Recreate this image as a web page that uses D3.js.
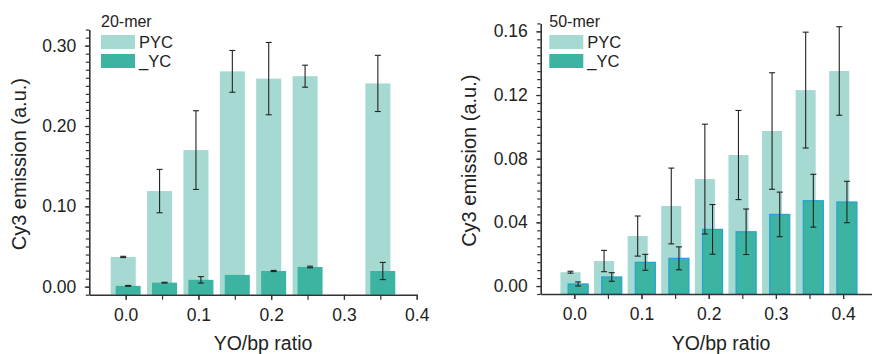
<!DOCTYPE html>
<html>
<head>
<meta charset="utf-8">
<script src="https://cdn.jsdelivr.net/npm/d3@7"></script>
<style>
  html, body { margin: 0; padding: 0; background: #fff; }
  svg { display: block; font-family: "Liberation Sans", Arial, Helvetica, sans-serif; }
</style>
</head>
<body>
<svg id="chart" width="872" height="354"></svg>
<script>
// 20-mer panel
const ratios20 = [0.0, 0.05, 0.1, 0.15, 0.2, 0.25, 0.35];
const pyc20    = [0.037, 0.119, 0.170, 0.268, 0.259, 0.262, 0.253];
const pyc20Err = [0.0008, 0.027, 0.049, 0.026, 0.045, 0.0137, 0.035];
const yc20     = [0.001, 0.005, 0.0085, 0.0146, 0.0195, 0.0245, 0.0195];
const yc20Err  = [0.0005, 0.0005, 0.004, 0, 0.0007, 0.001, 0.0107];

// 50-mer panel
const ratios50 = [0.0, 0.05, 0.1, 0.15, 0.2, 0.25, 0.3, 0.35, 0.4];
const pyc50    = [0.0087, 0.0157, 0.0314, 0.0503, 0.0672, 0.0823, 0.0974, 0.1231, 0.1351];
const pyc50Err = [0.0006, 0.0067, 0.0126, 0.0238, 0.0345, 0.028, 0.0366, 0.0364, 0.0278];
const yc50     = [0.0013, 0.0057, 0.0149, 0.0174, 0.0356, 0.0341, 0.045, 0.0536, 0.0528];
const yc50Err  = [0.0013, 0.0027, 0.005, 0.0072, 0.0156, 0.0143, 0.014, 0.0166, 0.013];

// Axis ticks
const xTicks = [0.0, 0.1, 0.2, 0.3, 0.4];
const yTicks20 = [0.0, 0.1, 0.2, 0.3];
const yTicks50 = [0.0, 0.04, 0.08, 0.12, 0.16];

const seriesNames = ["PYC", "_YC"];
const colorPYC = "#a5d9d2";
const colorYC = "#3db3a1";
const outlineYC = "#22a4d4";
const inkColor = "#222";

const svg = d3.select("#chart");

function drawPanel(cfg) {
  const g = svg.append("g");
  const x = d3.scaleLinear().domain(cfg.xDomain).range(cfg.xRange);
  const y = d3.scaleLinear().domain(cfg.yDomain).range(cfg.yRange);
  const base = y(cfg.yDomain[0]);
  const pxPerUnit = (cfg.xRange[1] - cfg.xRange[0]) / (cfg.xDomain[1] - cfg.xDomain[0]);
  const bw = cfg.barWidth * pxPerUnit;

  const rows = cfg.ratios.map((r, i) => ({
    r, pyc: cfg.pyc[i], pycErr: cfg.pycErr[i], yc: cfg.yc[i], ycErr: cfg.ycErr[i]
  }));

  // PYC bars (behind)
  g.selectAll("rect.pyc").data(rows).join("rect")
    .attr("class", "pyc")
    .attr("x", d => x(d.r - cfg.offset) - bw / 2)
    .attr("width", bw)
    .attr("y", d => y(d.pyc))
    .attr("height", d => base - y(d.pyc))
    .attr("fill", colorPYC);

  // _YC bars (front)
  g.selectAll("rect.yc").data(rows).join("rect")
    .attr("class", "yc")
    .attr("x", d => x(d.r + cfg.offset) - bw / 2)
    .attr("width", bw)
    .attr("y", d => y(d.yc))
    .attr("height", d => base - y(d.yc))
    .attr("fill", colorYC)
    .attr("stroke", cfg.outline ? outlineYC : "none")
    .attr("stroke-width", 1.2);

  // Error bars
  const errs = [];
  rows.forEach(d => {
    errs.push({ cx: x(d.r - cfg.offset), v: d.pyc, e: d.pycErr });
    errs.push({ cx: x(d.r + cfg.offset), v: d.yc, e: d.ycErr });
  });
  const eg = g.selectAll("g.err").data(errs.filter(d => d.e > 0)).join("g")
    .attr("class", "err")
    .attr("stroke", inkColor)
    .attr("stroke-width", 1.1);
  eg.append("line")
    .attr("x1", d => d.cx).attr("x2", d => d.cx)
    .attr("y1", d => y(d.v + d.e)).attr("y2", d => y(d.v - d.e));
  eg.append("line")
    .attr("x1", d => d.cx - 3).attr("x2", d => d.cx + 3)
    .attr("y1", d => y(d.v + d.e)).attr("y2", d => y(d.v + d.e));
  eg.append("line")
    .attr("x1", d => d.cx - 3).attr("x2", d => d.cx + 3)
    .attr("y1", d => y(d.v - d.e)).attr("y2", d => y(d.v - d.e));

  // Y axis: minor ticks, then major ticks with labels
  const yMinor = d3.range(cfg.yDomain[0], cfg.yDomain[1] + cfg.yMinorStep / 2, cfg.yMinorStep);
  const yAxisMinor = d3.axisLeft(y).tickValues(yMinor).tickSize(3.5).tickFormat("").tickSizeOuter(0);
  const yAxisMajor = d3.axisLeft(y).tickValues(cfg.yTicks).tickSize(4.5).tickPadding(8.5)
    .tickFormat(d3.format(".2f")).tickSizeOuter(0);
  const xAxisLine = x(cfg.xDomain[0]);
  g.append("g").attr("transform", `translate(${xAxisLine},0)`).call(yAxisMinor);
  const ya = g.append("g").attr("transform", `translate(${xAxisLine},0)`).call(yAxisMajor);
  ya.select(".domain").remove();

  // X axis: minor ticks at 0.05 and labelled major ticks
  const xMinor = d3.range(0, cfg.xTickMax + 0.001, 0.05);
  const xAxisMinor = d3.axisBottom(x).tickValues(xMinor).tickSize(5).tickFormat("").tickSizeOuter(0);
  const xAxisMajor = d3.axisBottom(x).tickValues(xTicks).tickSize(5).tickPadding(9)
    .tickFormat(d3.format(".1f")).tickSizeOuter(0);
  g.append("g").attr("transform", `translate(0,${base})`).call(xAxisMinor);
  const xa = g.append("g").attr("transform", `translate(0,${base})`).call(xAxisMajor);
  xa.select(".domain").remove();

  g.selectAll(".domain").attr("stroke", "#333").attr("stroke-width", 1.6);
  g.selectAll(".tick line").attr("stroke", "#333").attr("stroke-width", 1.2);
  g.selectAll(".tick text").attr("fill", inkColor).attr("font-size", 17.5)
    .attr("font-family", "Liberation Sans, Arial, sans-serif");

  // Axis titles
  g.append("text")
    .attr("transform", `translate(${cfg.yTitleX},${(cfg.yRange[0] + cfg.yRange[1]) / 2 + 2}) rotate(-90)`)
    .attr("text-anchor", "middle")
    .attr("dominant-baseline", "central")
    .attr("font-size", 20)
    .attr("fill", inkColor)
    .text("Cy3 emission (a.u.)");
  g.append("text")
    .attr("x", cfg.xTitleX)
    .attr("y", 349.5)
    .attr("text-anchor", "middle")
    .attr("font-size", 19.5)
    .attr("fill", inkColor)
    .text("YO/bp ratio");

  // Legend
  const lg = g.append("g").attr("transform", `translate(${cfg.legend[0]},${cfg.legend[1]})`);
  lg.append("text").attr("x", 0).attr("y", 0).attr("font-size", 16).attr("fill", inkColor).text(cfg.title);
  [colorPYC, colorYC].forEach((c, i) => {
    lg.append("rect").attr("x", 0).attr("y", 8.5 + i * 19).attr("width", 34).attr("height", 14).attr("fill", c);
    lg.append("text").attr("x", 38).attr("y", 21 + i * 19).attr("font-size", 16.5)
      .attr("fill", inkColor).text(seriesNames[i]);
  });
}

drawPanel({
  title: "20-mer",
  ratios: ratios20, pyc: pyc20, pycErr: pyc20Err, yc: yc20, ycErr: yc20Err,
  yTicks: yTicks20, yMinorStep: 0.01,
  xDomain: [-0.05, 0.4], xRange: [89.3, 416.7],
  yDomain: [-0.01, 0.32], yRange: [294.7, 29.6],
  xTickMax: 0.4,
  barWidth: 0.0344, offset: 0.0034, outline: false,
  yTitleX: 19, xTitleX: 263,
  legend: [101, 26.5]
});

drawPanel({
  title: "50-mer",
  ratios: ratios50, pyc: pyc50, pycErr: pyc50Err, yc: yc50, ycErr: yc50Err,
  yTicks: yTicks50, yMinorStep: 0.005,
  xDomain: [-0.05, 0.45], xRange: [540.7, 876.7],
  yDomain: [-0.005, 0.165], yRange: [294, 23.4],
  xTickMax: 0.4,
  barWidth: 0.0298, offset: 0.0057, outline: true,
  yTitleX: 469, xTitleX: 721,
  legend: [549.3, 26.5]
});
</script>
</body>
</html>
